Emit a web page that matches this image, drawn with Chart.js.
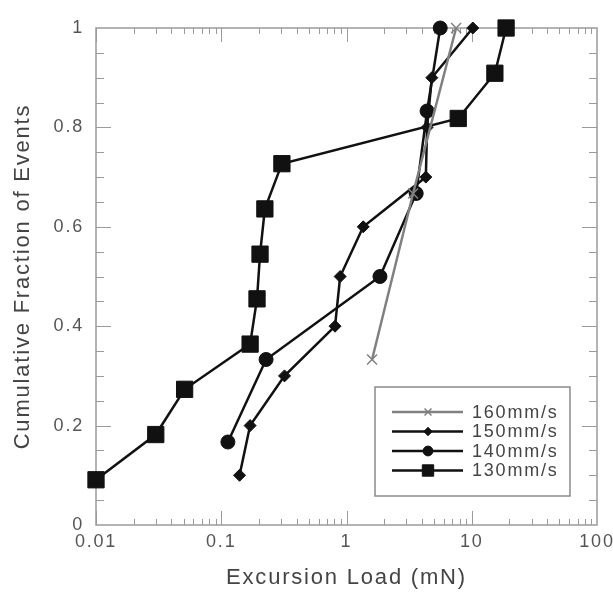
<!DOCTYPE html>
<html>
<head>
<meta charset="utf-8">
<script src="https://cdn.jsdelivr.net/npm/chart.js@4/dist/chart.umd.min.js"></script>
<style>
  html, body { margin: 0; padding: 0; background: #fff; }
  #wrap { width: 613px; height: 595px; }
</style>
</head>
<body>
<div id="wrap"><canvas id="cdf"></canvas></div>
<script>
// values
const load160 = [1.6, 3.4, 7.5];
const frac160 = [0.333, 0.667, 1.0];

const load150 = [0.14, 0.17, 0.32, 0.81, 0.89, 1.36, 4.3, 4.4, 4.8, 10.2];
const frac150 = [0.1, 0.2, 0.3, 0.4, 0.5, 0.6, 0.7, 0.8, 0.9, 1.0];

const load140 = [0.113, 0.228, 1.85, 3.6, 4.4, 5.6];
const frac140 = [0.167, 0.333, 0.5, 0.667, 0.833, 1.0];

const load130 = [0.01, 0.03, 0.051, 0.17, 0.193, 0.204, 0.223, 0.305, 7.8, 15.3, 18.8];
const frac130 = [0.091, 0.182, 0.273, 0.364, 0.455, 0.545, 0.636, 0.727, 0.818, 0.909, 1.0];

const seriesNames = ["160mm/s", "150mm/s", "140mm/s", "130mm/s"];
const xTicks = [0.01, 0.1, 1, 10, 100];
const yTicks = [0, 0.2, 0.4, 0.6, 0.8, 1];

const pts = (xs, ys) => xs.map((x, i) => ({ x: x, y: ys[i] }));

const FONT = "'Liberation Sans', Arial, sans-serif";
const frameColor = "#9a9a9a";
const SPACING = "1.8px";

// the scan's lettering is wide, so space the letters a bit
const spacingPlugin = {
  id: "spacing",
  beforeLayout(chart) { chart.ctx.letterSpacing = SPACING; },
  beforeDraw(chart) { chart.ctx.letterSpacing = SPACING; }
};

// box, inner ticks and legend
const framePlugin = {
  id: "frame",
  beforeDatasetsDraw(chart) {
    const { ctx, chartArea: a, scales } = chart;
    const xs = scales.x, ys = scales.y;
    ctx.save();
    ctx.strokeStyle = frameColor;
    ctx.lineWidth = 1.5;
    ctx.strokeRect(a.left, a.top, a.right - a.left, a.bottom - a.top);
    ctx.lineWidth = 1;
    ctx.beginPath();
    for (let d = -2; d < 2; d++) {
      for (let m = 1; m <= 9; m++) {
        const v = m * Math.pow(10, d);
        const px = Math.round(xs.getPixelForValue(v)) + 0.5;
        const len = m === 1 ? 14 : 6;
        ctx.moveTo(px, a.bottom); ctx.lineTo(px, a.bottom - len);
        ctx.moveTo(px, a.top); ctx.lineTo(px, a.top + len);
      }
    }
    for (let k = 1; k < 20; k++) {
      const py = Math.round(ys.getPixelForValue(k * 0.05)) + 0.5;
      const len = k % 4 === 0 ? 15 : 8;
      ctx.moveTo(a.left, py); ctx.lineTo(a.left + len, py);
      ctx.moveTo(a.right, py); ctx.lineTo(a.right - len, py);
    }
    ctx.stroke();
    ctx.restore();
  },
  afterDatasetsDraw(chart) {
    const { ctx } = chart;
    const bx = 375, by = 387, bw = 195, bh = 109;
    ctx.save();
    ctx.fillStyle = "#fff";
    ctx.fillRect(bx, by, bw, bh);
    ctx.strokeStyle = "#8a8a8a";
    ctx.lineWidth = 1.5;
    ctx.strokeRect(bx, by, bw, bh);
    chart.data.datasets.forEach((ds, i) => {
      const y = 412 + i * 19.5;
      ctx.strokeStyle = ds.borderColor;
      ctx.lineWidth = ds.borderWidth;
      ctx.beginPath();
      ctx.moveTo(392, y); ctx.lineTo(463, y);
      ctx.stroke();
      ctx.fillStyle = ds.pointBackgroundColor;
      ctx.strokeStyle = ds.borderColor;
      ctx.lineWidth = ds.pointBorderWidth;
      Chart.helpers.drawPoint(ctx, {
        pointStyle: ds.pointStyle,
        radius: ds.pointRadius * 0.7,
        rotation: 0,
        borderWidth: ds.pointBorderWidth
      }, 428, y);
      ctx.fillStyle = "#444";
      ctx.font = "18px " + FONT;
      ctx.textBaseline = "middle";
      ctx.fillText(ds.label, 472, y + 1);
    });
    ctx.restore();
  }
};

const makeSet = (label, data, style, radius, color, width) => ({
  label: label,
  data: data,
  borderColor: color,
  backgroundColor: color,
  pointBackgroundColor: color,
  pointBorderColor: color,
  borderWidth: width,
  pointBorderWidth: style === "crossRot" ? 1.5 : 1,
  pointStyle: style,
  pointRadius: radius,
  tension: 0,
  fill: false
});

new Chart(document.getElementById("cdf"), {
  type: "line",
  data: {
    datasets: [
      makeSet(seriesNames[0], pts(load160, frac160), "crossRot", 7, "#808080", 2.5),
      makeSet(seriesNames[1], pts(load150, frac150), "rectRot", 6, "#111", 2.5),
      makeSet(seriesNames[2], pts(load140, frac140), "circle", 7, "#111", 2.5),
      makeSet(seriesNames[3], pts(load130, frac130), "rect", 11.5, "#111", 2.5)
    ]
  },
  options: {
    responsive: true,
    maintainAspectRatio: false,
    animation: false,
    clip: false,
    layout: { padding: { top: 28, right: 16, left: 0, bottom: 0 } },
    plugins: {
      legend: { display: false },
      tooltip: { enabled: false }
    },
    scales: {
      x: {
        type: "logarithmic",
        min: 0.01,
        max: 100,
        afterBuildTicks: (s) => { s.ticks = xTicks.map(v => ({ value: v })); },
        afterFit: (s) => { s.height = 70; s.paddingLeft = 0; s.paddingRight = 0; },
        grid: { display: false, drawTicks: false },
        border: { display: false },
        ticks: {
          color: "#555",
          font: { family: FONT, size: 18 },
          padding: 6,
          maxRotation: 0,
          autoSkip: false,
          callback: (v) => String(v)
        },
        title: {
          display: true,
          text: "Excursion Load (mN)",
          color: "#444",
          font: { family: FONT, size: 22 },
          padding: { top: 10, bottom: 4 }
        }
      },
      y: {
        min: 0,
        max: 1,
        afterBuildTicks: (s) => { s.ticks = yTicks.map(v => ({ value: v })); },
        afterFit: (s) => { s.width = 96; s.paddingTop = 0; s.paddingBottom = 0; },
        grid: { display: false, drawTicks: false },
        border: { display: false },
        ticks: {
          color: "#555",
          font: { family: FONT, size: 18 },
          padding: 12,
          callback: (v) => String(v)
        },
        title: {
          display: true,
          text: "Cumulative Fraction of Events",
          color: "#444",
          font: { family: FONT, size: 22 },
          padding: { top: 10, bottom: 0 }
        }
      }
    }
  },
  plugins: [spacingPlugin, framePlugin]
});
</script>
</body>
</html>
